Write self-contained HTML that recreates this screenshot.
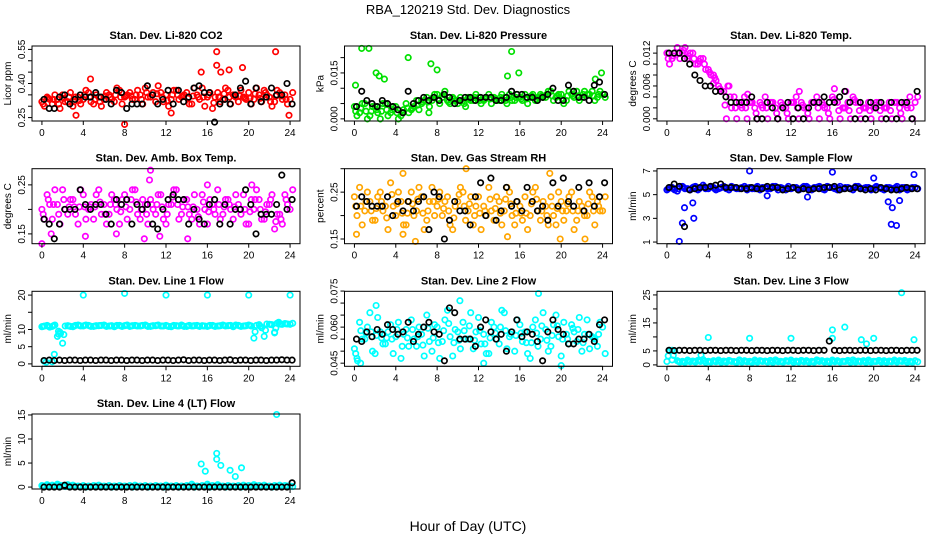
<!DOCTYPE html>
<html><head><meta charset="utf-8"><style>
html,body{margin:0;padding:0;background:#fff;}
svg{display:block;font-family:"Liberation Sans",sans-serif;}
</style></head><body>
<svg id="chart" width="936" height="540" viewBox="0 0 936 540">
<text x="468" y="14" font-size="13" text-anchor="middle">RBA_120219  Std. Dev. Diagnostics</text>
<text x="468" y="531" font-size="14" text-anchor="middle">Hour of Day (UTC)</text>
</svg>
<script>
const H=[0,0.5,1,1.5,2,2.5,3,3.5,4,4.5,5,5.5,6,6.5,7,7.5,8,8.5,9,9.5,10,10.5,11,11.5,12,12.5,13,13.5,14,14.5,15,15.5,16,16.5,17,17.5,18,18.5,19,19.5,20,20.5,21,21.5,22,22.5,23,23.5,24];
const xTicks=[0,4,8,12,16,20,24];

const co2A=[0.32,0.34,0.31,0.33,0.35,0.32,0.30,0.34,0.33,0.36,0.31,0.34,0.33,0.35,0.32,0.37,0.34,0.36,0.33,0.35,0.38,0.34,0.32,0.36,0.35,0.33,0.37,0.34,0.36,0.31,0.35,0.38,0.34,0.29,0.36,0.33,0.37,0.35,0.32,0.34,0.36,0.33,0.35,0.37,0.34,0.32,0.36,0.35,0.33];
const co2B=[0.30,0.33,0.35,0.29,0.32,0.36,0.34,0.31,0.37,0.32,0.35,0.30,0.36,0.33,0.38,0.31,0.35,0.33,0.37,0.31,0.34,0.36,0.39,0.32,0.30,0.37,0.33,0.35,0.31,0.38,0.33,0.30,0.36,0.34,0.32,0.38,0.31,0.34,0.37,0.33,0.31,0.38,0.32,0.35,0.30,0.37,0.33,0.31,0.36];
const co2K=[0.33,0.29,0.29,0.34,0.35,0.31,0.33,0.35,0.34,0.34,0.36,0.34,0.33,0.31,0.37,0.36,0.29,0.31,0.31,0.31,0.39,0.35,0.31,0.33,0.37,0.31,0.37,0.32,0.34,0.38,0.39,0.36,0.36,0.23,0.31,0.33,0.31,0.35,0.38,0.41,0.31,0.38,0.32,0.34,0.38,0.35,0.35,0.40,0.31];
const co2OutX=[4.7,8,16.9,16.9,17.3,18.1,19.4,22.6,23.9,12.5,3.3,15.4];
const co2OutY=[0.42,0.22,0.54,0.48,0.45,0.46,0.47,0.54,0.26,0.27,0.26,0.45];

const prA=[0.004,0.002,0.005,0.001,0.004,0.000,0.005,0.002,0.004,0.001,0.005,0.003,0.006,0.005,0.007,0.006,0.008,0.007,0.006,0.007,0.005,0.006,0.007,0.006,0.007,0.006,0.008,0.007,0.006,0.007,0.008,0.006,0.007,0.008,0.007,0.006,0.008,0.007,0.009,0.007,0.008,0.006,0.008,0.009,0.007,0.008,0.009,0.007,0.008];
const prB=[0.001,0.005,0.000,0.004,0.002,0.005,0.001,0.004,0.000,0.003,0.002,0.004,0.003,0.006,0.004,0.008,0.005,0.009,0.005,0.006,0.007,0.004,0.006,0.008,0.005,0.007,0.005,0.006,0.008,0.005,0.006,0.008,0.006,0.005,0.008,0.007,0.007,0.009,0.006,0.008,0.005,0.009,0.007,0.006,0.009,0.008,0.006,0.009,0.007];
const prK=[0.004,0.009,0.006,0.005,0.004,0.006,0.005,0.004,0.003,0.002,0.009,0.005,0.006,0.007,0.006,0.007,0.006,0.008,0.007,0.005,0.006,0.007,0.007,0.006,0.007,0.007,0.007,0.006,0.006,0.007,0.009,0.008,0.008,0.007,0.007,0.006,0.007,0.008,0.010,0.006,0.006,0.011,0.009,0.007,0.007,0.006,0.011,0.012,0.008];
const prOutX=[0.1,0.7,1.4,2.1,2.4,2.9,5.2,7.4,8,15.2,14.8,15.9,23.9,7.2,23.3];
const prOutY=[0.011,0.023,0.023,0.015,0.014,0.013,0.020,0.018,0.016,0.022,0.014,0.015,0.015,0.002,0.013];

const tmA=[0.012,0.011,0.013,0.012,0.011,0.012,0.010,0.011,0.009,0.008,0.006,0.005,0.006,0.004,0.003,0.004,0.003,0.002,0.003,0.004,0.003,0.002,0.003,0.002,0.003,0.004,0.003,0.002,0.003,0.004,0.003,0.002,0.004,0.003,0.002,0.003,0.004,0.003,0.002,0.003,0.002,0.003,0.002,0.003,0.003,0.002,0.003,0.004,0.003];
const tmB=[0.010,0.012,0.011,0.013,0.012,0.010,0.011,0.009,0.008,0.007,0.005,0.0,0.002,0.0,0.002,0.0,0.003,0.0,0.002,0.0,0.003,0.0,0.002,0.0,0.003,0.0,0.002,0.0,0.003,0.0,0.002,0.0,0.003,0.0,0.002,0.0,0.003,0.0,0.002,0.0,0.003,0.0,0.002,0.0,0.003,0.0,0.002,0.0,0.004];
const tmK=[0.012,0.012,0.012,0.011,0.010,0.008,0.007,0.006,0.006,0.005,0.005,0.004,0.003,0.003,0.003,0.003,0.004,0.000,0.000,0.003,0.002,0.000,0.002,0.003,0.000,0.002,0.000,0.002,0.003,0.003,0.004,0.003,0.003,0.004,0.005,0.003,0.000,0.003,0.000,0.003,0.002,0.003,0.000,0.003,0.000,0.003,0.003,0.000,0.005];
const tmOutX=[4.5,5.9,7.8,12.8,16.2,17.3];
const tmOutY=[0.0065,0.006,0.0045,0.005,0.0055,0.005];

const abA=[0.20,0.23,0.18,0.21,0.24,0.19,0.22,0.17,0.23,0.20,0.18,0.24,0.21,0.19,0.22,0.17,0.23,0.20,0.24,0.18,0.21,0.22,0.19,0.23,0.17,0.21,0.24,0.19,0.22,0.18,0.20,0.23,0.17,0.21,0.24,0.19,0.22,0.18,0.21,0.23,0.17,0.20,0.22,0.18,0.21,0.16,0.19,0.23,0.20];
const abB=[0.18,0.21,0.24,0.17,0.20,0.22,0.19,0.24,0.18,0.21,0.23,0.19,0.17,0.23,0.20,0.22,0.18,0.24,0.19,0.22,0.17,0.20,0.23,0.18,0.21,0.24,0.18,0.22,0.19,0.23,0.17,0.20,0.22,0.19,0.18,0.22,0.20,0.23,0.19,0.17,0.22,0.24,0.18,0.21,0.23,0.19,0.17,0.21,0.24];
const abK=[0.18,0.17,0.14,0.17,0.20,0.20,0.20,0.24,0.21,0.20,0.21,0.21,0.19,0.17,0.22,0.21,0.22,0.17,0.21,0.20,0.21,0.17,0.16,0.20,0.22,0.23,0.22,0.22,0.17,0.20,0.18,0.17,0.21,0.22,0.17,0.21,0.17,0.20,0.20,0.24,0.21,0.15,0.19,0.19,0.19,0.21,0.27,0.20,0.22];
const abOutX=[0,10.5,10.4,7.2,9.9,14.1,16,20.3,0.9,4.2,11.4];
const abOutY=[0.13,0.28,0.26,0.15,0.14,0.14,0.25,0.25,0.15,0.145,0.145];

const rhA=[0.24,0.26,0.21,0.23,0.19,0.25,0.22,0.27,0.20,0.23,0.18,0.25,0.21,0.24,0.19,0.26,0.22,0.20,0.24,0.17,0.23,0.25,0.21,0.18,0.24,0.22,0.26,0.19,0.23,0.21,0.25,0.18,0.22,0.24,0.20,0.26,0.19,0.22,0.24,0.18,0.23,0.21,0.25,0.19,0.22,0.20,0.24,0.23,0.21];
const rhB=[0.20,0.18,0.25,0.19,0.24,0.21,0.17,0.22,0.25,0.18,0.23,0.20,0.26,0.17,0.23,0.20,0.25,0.23,0.18,0.22,0.26,0.19,0.24,0.22,0.17,0.20,0.21,0.24,0.18,0.26,0.20,0.23,0.19,0.17,0.25,0.21,0.23,0.18,0.20,0.25,0.19,0.24,0.17,0.23,0.20,0.25,0.18,0.21,0.24];
const rhK=[0.22,0.24,0.23,0.22,0.22,0.22,0.24,0.20,0.23,0.21,0.23,0.21,0.23,0.24,0.17,0.25,0.24,0.15,0.19,0.23,0.21,0.21,0.18,0.24,0.27,0.20,0.28,0.19,0.21,0.26,0.22,0.23,0.21,0.26,0.23,0.21,0.22,0.19,0.27,0.22,0.28,0.23,0.22,0.26,0.21,0.27,0.22,0.24,0.27];
const rhOutX=[4.7,10.8,18.9,0.2,4.7,5.9,14.8,19.9,22.3];
const rhOutY=[0.29,0.30,0.29,0.16,0.16,0.145,0.155,0.15,0.15];

const sfA=[5.4,5.6,5.3,5.7,5.5,5.6,5.4,5.8,5.5,5.6,5.5,5.7,5.4,5.6,5.5,5.7,5.6,5.5,5.4,5.6,5.5,5.7,5.6,5.4,5.5,5.6,5.5,5.7,5.4,5.6,5.5,5.7,5.6,5.4,5.5,5.6,5.4,5.7,5.5,5.6,5.5,5.6,5.4,5.6,5.5,5.4,5.6,5.5,5.6];
const sfB=[5.6,5.4,5.7,5.5,5.4,5.7,5.6,5.5,5.7,5.4,5.6,5.5,5.7,5.5,5.6,5.4,5.5,5.7,5.6,5.5,5.7,5.4,5.5,5.7,5.6,5.4,5.7,5.5,5.6,5.7,5.4,5.6,5.5,5.7,5.6,5.5,5.7,5.5,5.6,5.4,5.7,5.5,5.6,5.5,5.7,5.6,5.4,5.6,5.5];
const sfK=[5.6,5.9,5.7,2.3,5.4,5.5,5.6,5.6,5.7,5.8,5.9,5.6,5.6,5.6,5.5,5.5,5.6,5.5,5.5,5.7,5.6,5.6,5.4,5.5,5.6,5.4,5.5,5.4,5.5,5.5,5.6,5.6,5.7,5.4,5.5,5.5,5.6,5.5,5.4,5.5,5.4,5.6,5.5,5.4,5.4,5.5,5.6,5.5,5.5];
const sfOutX=[1.2,1.5,1.7,2.5,2.6,8,16,20,21.4,21.8,21.7,22.2,22.5,23.9,13.6,9.7];
const sfOutY=[1.05,2.6,3.9,4.3,3.0,7.0,6.9,6.4,4.4,3.9,2.5,2.4,4.5,6.7,4.8,4.9];

const l1A=[10.8,11.2,10.9,8.0,6.0,11.1,10.8,11.3,11.0,11.2,10.9,11.1,11.3,11.0,10.8,11.2,11.1,10.9,11.2,11.0,11.3,10.9,11.1,11.0,11.2,10.8,11.1,11.3,10.9,11.0,11.2,11.1,10.9,11.2,11.0,11.3,11.1,10.8,11.2,11.0,11.3,7.5,11.4,8.0,11.5,9.0,11.6,11.7,11.5];
const l1B=[11.0,10.7,11.3,9.2,11.0,10.9,11.2,11.0,11.3,10.9,11.1,11.2,10.9,11.1,11.2,10.9,11.3,11.1,11.0,11.2,10.9,11.1,11.3,11.0,10.9,11.2,11.0,10.9,11.2,11.1,10.9,11.0,11.2,10.9,11.1,11.0,11.2,11.3,10.9,11.1,11.0,11.2,10.5,11.6,11.4,11.8,11.5,11.6,11.8];
const l1K=[1.0,1.1,1.0,1.1,1.0,1.1,1.1,1.0,1.1,1.1,1.0,1.1,1.1,1.0,1.1,1.1,1.0,1.1,1.1,1.0,1.1,1.1,1.0,1.1,1.1,1.0,1.1,1.2,1.0,1.1,1.1,1.0,1.1,1.1,1.0,1.1,1.2,1.0,1.1,1.1,1.0,1.1,1.1,1.0,1.1,1.1,1.2,1.1,1.1];
const l1OutX=[4,8,12,16,20,24,1.2,0.2,0.4,1.6,1.8,22.9,22.5,1.0];
const l1OutY=[20,20.5,20,20,20,20,2.8,0.8,0.5,9.5,8.8,12.1,9.2,0.6];

const l2A=[0.051,0.062,0.055,0.066,0.049,0.058,0.053,0.061,0.056,0.047,0.059,0.063,0.052,0.057,0.065,0.050,0.060,0.054,0.067,0.048,0.058,0.062,0.055,0.051,0.064,0.057,0.049,0.060,0.053,0.066,0.056,0.050,0.061,0.058,0.047,0.063,0.055,0.059,0.052,0.065,0.048,0.057,0.061,0.054,0.050,0.063,0.056,0.052,0.060];
const l2B=[0.047,0.055,0.060,0.050,0.064,0.053,0.058,0.049,0.062,0.057,0.052,0.055,0.060,0.048,0.054,0.061,0.047,0.063,0.056,0.059,0.051,0.055,0.066,0.058,0.053,0.049,0.062,0.055,0.067,0.051,0.058,0.063,0.054,0.049,0.060,0.052,0.066,0.050,0.061,0.056,0.062,0.053,0.058,0.064,0.057,0.051,0.055,0.062,0.049];
const l2K=[0.055,0.054,0.058,0.056,0.059,0.057,0.061,0.059,0.057,0.058,0.062,0.054,0.057,0.060,0.062,0.058,0.057,0.046,0.068,0.066,0.055,0.055,0.055,0.052,0.060,0.063,0.058,0.055,0.057,0.050,0.058,0.063,0.056,0.058,0.057,0.054,0.046,0.058,0.063,0.059,0.057,0.053,0.053,0.055,0.055,0.057,0.054,0.061,0.063];
const l2OutX=[17.8,0.3,0.6,2.1,12.5,20,10.2];
const l2OutY=[0.074,0.046,0.045,0.069,0.045,0.044,0.071];

const l3A=[1.2,1.8,1.5,1.3,1.7,1.4,1.6,1.9,1.3,1.5,1.7,1.4,1.6,1.2,1.8,1.5,1.3,1.7,1.5,1.4,1.6,1.8,1.3,1.5,1.7,1.4,1.6,1.5,1.3,1.8,1.5,1.4,1.7,1.5,1.3,1.6,1.8,1.4,1.5,1.7,1.3,1.6,1.5,1.4,1.7,1.5,1.6,1.3,1.5];
const l3B=[5.2,5.0,1.0,0.9,1.1,1.0,1.2,0.9,1.0,1.1,0.9,1.0,1.2,0.9,1.0,1.1,0.9,1.0,1.2,1.0,0.9,1.1,1.0,1.2,0.9,1.0,1.1,0.9,1.0,1.2,1.0,0.9,1.1,1.0,1.2,0.9,1.0,1.1,0.9,1.0,1.2,1.0,0.9,1.1,1.0,1.2,0.9,1.0,1.1];
const l3K=[5.2,5.1,5.2,5.2,5.1,5.2,5.2,5.1,5.2,5.2,5.1,5.2,5.2,5.1,5.2,5.2,5.1,5.2,5.2,5.1,5.2,5.2,5.1,5.2,5.2,5.1,5.2,5.2,5.1,5.2,5.2,8.5,5.2,5.1,5.2,5.2,5.1,5.2,5.2,5.1,5.2,5.2,5.1,5.2,5.2,5.1,5.2,5.2,5.2];
const l3OutX=[0.3,0.5,4,8,12,16,17.2,16,18.8,19.3,20,22.7,23.9,3.3];
const l3OutY=[5.0,5.2,9.8,9.5,9.5,12.5,13.5,9.5,9,7.5,9.5,25.8,9,3.5];

const l4A=[0.3,0.5,0.4,0.6,0.3,0.5,0.4,0.2,0.3,0.2,0.3,0.4,0.2,0.3,0.2,0.3,0.2,0.3,0.4,0.2,0.3,0.2,0.3,0.2,0.4,0.2,0.3,0.2,0.3,0.6,0.2,0.3,0.6,0.3,0.5,0.2,0.3,0.2,0.3,0.4,0.3,0.5,0.3,0.4,0.2,0.3,0.4,0.3,0.2];
const l4B=[0.1,0.2,0.1,0.3,0.1,0.2,0.1,0.1,0.0,0.1,0.2,0.1,0.1,0.0,0.1,0.1,0.1,0.0,0.1,0.1,0.0,0.1,0.1,0.0,0.1,0.1,0.0,0.1,0.1,0.0,0.1,0.1,0.0,0.1,0.1,0.0,0.1,0.1,0.0,0.1,0.1,0.2,0.1,0.1,0.0,0.1,0.1,0.2,0.1];
const l4K=[0.0,0.0,0.0,0.0,0.4,0.0,0.0,0.0,0.0,0.0,0.0,0.0,0.0,0.0,0.0,0.0,0.0,0.0,0.0,0.0,0.0,0.0,0.0,0.0,0.0,0.0,0.0,0.0,0.0,0.0,0.0,0.0,0.0,0.0,0.0,0.0,0.0,0.0,0.0,0.0,0.0,0.0,0.0,0.0,0.0,0.0,0.0,0.0,0.9];
const l4OutX=[15.4,16.9,16.9,17.3,18.2,18.7,19.3,22.7,15.8];
const l4OutY=[4.8,7.0,5.8,4.5,3.5,2.2,4.0,15.1,3.3];

const panels=[
 {key:'co2',title:'Stan. Dev. Li-820 CO2',ylab:'Licor ppm',col:0,row:0,ylim:[0.235,0.565],yt:[0.25,0.30,0.35,0.40,0.45,0.50,0.55],yl:['0.25','','','0.40','','','0.55'],c:'#ff0000',a:co2A,b:co2B,k:co2K,ox:co2OutX,oy:co2OutY},
 {key:'pressure',title:'Stan. Dev. Li-820 Pressure',ylab:'kPa',col:1,row:0,ylim:[-0.0007,0.0238],yt:[0,0.005,0.010,0.015,0.020],yl:['0.000','','','0.015',''],c:'#00e000',a:prA,b:prB,k:prK,ox:prOutX,oy:prOutY},
 {key:'temp',title:'Stan. Dev. Li-820 Temp.',ylab:'degrees C',col:2,row:0,ylim:[-0.0004,0.0133],yt:[0,0.002,0.004,0.006,0.008,0.010,0.012],yl:['0.000','','','0.006','','','0.012'],c:'#ff00ff',a:tmA,b:tmB,k:tmK,ox:tmOutX,oy:tmOutY},
 {key:'ambbox',title:'Stan. Dev. Amb. Box Temp.',ylab:'degrees C',col:0,row:1,ylim:[0.13,0.283],yt:[0.15,0.20,0.25],yl:['0.15','','0.25'],c:'#ff00ff',a:abA,b:abB,k:abK,ox:abOutX,oy:abOutY},
 {key:'rh',title:'Stan. Dev. Gas Stream RH',ylab:'percent',col:1,row:1,ylim:[0.14,0.30],yt:[0.15,0.20,0.25,0.30],yl:['0.15','','0.25',''],c:'#ffa500',a:rhA,b:rhB,k:rhK,ox:rhOutX,oy:rhOutY},
 {key:'sampleflow',title:'Stan. Dev. Sample Flow',ylab:'ml/min',col:2,row:1,ylim:[0.86,7.19],yt:[1,3,5,7],yl:['1','3','5','7'],c:'#0000ff',a:sfA,b:sfB,k:sfK,ox:sfOutX,oy:sfOutY},
 {key:'line1',title:'Stan. Dev. Line 1 Flow',ylab:'ml/min',col:0,row:2,ylim:[-0.7,21.1],yt:[0,5,10,15,20],yl:['0','5','10','','20'],c:'#00ffff',a:l1A,b:l1B,k:l1K,ox:l1OutX,oy:l1OutY},
 {key:'line2',title:'Stan. Dev. Line 2 Flow',ylab:'ml/min',col:1,row:2,ylim:[0.0437,0.0749],yt:[0.045,0.050,0.055,0.060,0.065,0.070,0.075],yl:['0.045','','','0.060','','','0.075'],c:'#00ffff',a:l2A,b:l2B,k:l2K,ox:l2OutX,oy:l2OutY},
 {key:'line3',title:'Stan. Dev. Line 3 Flow',ylab:'ml/min',col:2,row:2,ylim:[-0.5,26.3],yt:[0,5,10,15,20,25],yl:['0','5','','15','','25'],c:'#00ffff',a:l3A,b:l3B,k:l3K,ox:l3OutX,oy:l3OutY},
 {key:'line4',title:'Stan. Dev. Line 4 (LT) Flow',ylab:'ml/min',col:0,row:3,ylim:[-0.4,15.2],yt:[0,5,10,15],yl:['0','5','10','15'],c:'#00ffff',a:l4A,b:l4B,k:l4K,ox:l4OutX,oy:l4OutY}
];

const NS='http://www.w3.org/2000/svg';
const svg=document.getElementById('chart');
const colLeft=[32,344.5,657], boxW=268, rowTop=[46,168.7,291.3,414], boxH=75;
const xlim=[-0.96,24.96];
function mk(tag,attrs,parent){const e=document.createElementNS(NS,tag);for(const k in attrs)e.setAttribute(k,attrs[k]);parent.appendChild(e);return e;}

panels.forEach(p=>{
  const L=colLeft[p.col],T=rowTop[p.row];
  const xs=v=>L+(v-xlim[0])/(xlim[1]-xlim[0])*boxW;
  const ys=v=>T+boxH-(v-p.ylim[0])/(p.ylim[1]-p.ylim[0])*boxH;
  const g=mk('g',{},svg);
  
  
  const t=mk('text',{x:L+boxW/2,y:T-7,'font-size':11,'font-weight':'bold','text-anchor':'middle'},g);
  t.textContent=p.title;
  
  
  const yl=mk('text',{transform:`translate(${L-21},${T+boxH/2}) rotate(-90)`,'font-size':10,'text-anchor':'middle'},g);
  yl.textContent=p.ylab;
  
  
  const pts=mk('g',{fill:'none','stroke-width':1.7},g);
  
  
  const dot=(x,y,col,nm)=>{
    if(y==null)return;
    const c=mk('circle',{cx:xs(x).toFixed(1),cy:ys(y).toFixed(1),r:2.7,stroke:col},pts);
    
    
  };
  p.a.forEach((v,i)=>dot(H[i],v,p.c,'point'));
  p.b.forEach((v,i)=>dot(H[i]+0.25,v,p.c,'point'));
  p.a.forEach((v,i)=>{if(i<48)dot(H[i]+0.12,(v+p.b[i])/2,p.c,'point');});
  p.ox.forEach((x,i)=>dot(x,p.oy[i],p.c,'outlier-point'));
  p.k.forEach((v,i)=>dot(H[i]+0.2,v,'#000','black-point'));
  const box=mk('rect',{x:L,y:T,width:boxW,height:boxH,fill:'none',stroke:'#000','stroke-width':1},g);
  
  
  const xa=mk('g',{},g);
  
  
  mk('line',{x1:xs(xTicks[0]),x2:xs(xTicks[xTicks.length-1]),y1:T+boxH,y2:T+boxH,stroke:'#000'},xa);
  xTicks.forEach(v=>{
    mk('line',{x1:xs(v),x2:xs(v),y1:T+boxH,y2:T+boxH+4,stroke:'#000'},xa);
    const tx=mk('text',{x:xs(v),y:T+boxH+15,'font-size':10,'text-anchor':'middle'},xa);
    tx.textContent=v;
    
    
  });
  const ya=mk('g',{},g);
  
  
  p.yt.forEach((v,i)=>{
    mk('line',{x1:L-4,x2:L,y1:ys(v),y2:ys(v),stroke:'#000'},ya);
    if(p.yl[i]){
      const tx=mk('text',{transform:`translate(${L-7},${ys(v)}) rotate(-90)`,'font-size':10,'text-anchor':'middle'},ya);
      tx.textContent=p.yl[i];
      
      
    }
  });
});
</script>
</body></html>
